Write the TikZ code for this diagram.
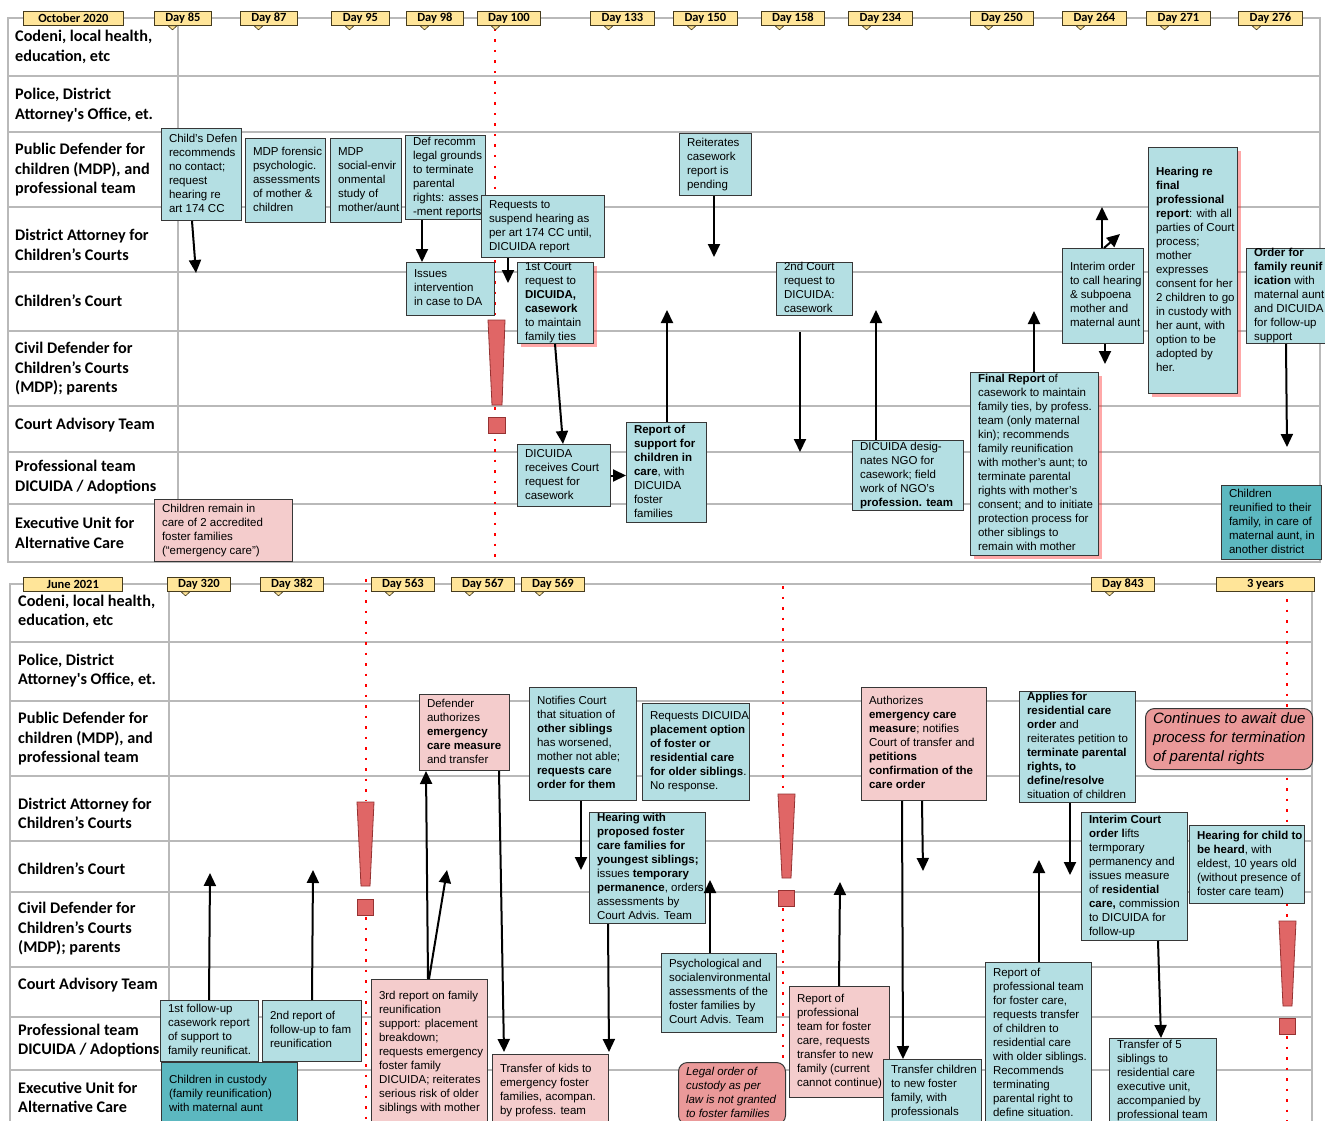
\documentclass[tikz,border=0pt]{standalone}
\usepackage{fontspec}
\setmainfont{Liberation Sans}
\newfontfamily\labfont{Carlito}
\usetikzlibrary{arrows.meta,shadows,calc}
\pgfdeclarelayer{background}
\pgfsetlayers{background,main}
\definecolor{cTeal}{RGB}{180,223,227}
\definecolor{cDark}{RGB}{92,184,192}
\definecolor{cPink}{RGB}{244,204,204}
\definecolor{cSalmon}{RGB}{234,153,153}
\definecolor{cExcl}{RGB}{224,102,102}
\definecolor{cExclB}{RGB}{150,50,50}
\definecolor{cTag}{RGB}{255,229,153}
\definecolor{cTagB}{RGB}{70,60,30}
\definecolor{cGrid}{RGB}{185,185,185}
\definecolor{cBorder}{RGB}{55,55,55}
\tikzset{
 bxs/.style={draw=cBorder, line width=1pt, inner sep=0pt, anchor=north west, font=\fontsize{11.5}{14}\selectfont},
 tealb/.style={bxs, fill=cTeal},
 darkb/.style={bxs, fill=cDark},
 pinkb/.style={bxs, fill=cPink},
 salb/.style={bxs, fill=cSalmon, rounded corners=9pt},
 glow/.style={drop shadow={shadow xshift=3.5pt, shadow yshift=-3.5pt, fill=red!85, opacity=0.4}},
 arr/.style={line width=2pt, -{Triangle[length=13pt,width=12pt]}},
 gridl/.style={draw=cGrid, line width=1.4pt},
 lane/.style={anchor=west, align=left, inner sep=0pt, font=\labfont\bfseries\fontsize{16.2}{19.5}\selectfont},
 tagb/.style={draw=cTagB, fill=cTag, line width=0.8pt, inner sep=0pt, anchor=north west, minimum height=14pt, font=\labfont\bfseries\fontsize{12.5}{12.5}\selectfont},
 reddot/.style={draw=red, line width=2.5pt, dash pattern=on 2.5pt off 8pt},
 excl/.style={fill=cExcl, draw=cExclB, line width=0.8pt},
 dashl/.style={draw=black, line width=1.5pt, dash pattern=on 8pt off 6pt},
}
\newcommand\bx[7]{\node[#6, minimum width=#4pt, minimum height=#5pt] (#1) at (#2,#3) {\parbox[c][#5pt][c]{#4pt}{\noindent\hspace*{7.5pt}\begin{tabular}{@{}l@{}}#7\end{tabular}}};}
\newcommand\tg[5]{\node[tagb, minimum width={(#3-#2)*1pt}] (#1) at (#2,#4) {#5};
 \filldraw[fill=cTag, draw=cTagB, line width=0.6pt] ($(#1.south west)+(14,0)$) -- ++(9,0) -- ++(-4.5,4) -- cycle;}
\newcommand\tgm[5]{\node[tagb, minimum width={(#3-#2)*1pt}] (#1) at (#2,#4) {#5};}
\begin{document}
\begin{tikzpicture}[x=1pt,y=-1pt]
\useasboundingbox (0,0) rectangle (1325,1121);
\fill[white] (0,0) rectangle (1325,1121);
% ---------- grids
\draw[gridl] (8,18) rectangle (1320,562);
\foreach \yy in {76,132,207,272,331,406,452,504} \draw[gridl] (8,\yy) -- (1320,\yy);
\draw[gridl] (178,18) -- (178,562);
\draw[gridl] (10,1121) -- (10,584) -- (1312,584) -- (1312,1121);
\foreach \yy in {642,701,776,841,892,967,1017,1070} \draw[gridl] (10,\yy) -- (1312,\yy);
\draw[gridl] (169,584) -- (169,1121);
% ---------- red dotted lines
\draw[reddot] (495,29) -- (495,562);
\draw[reddot] (366,579) -- (366,801);
\draw[reddot] (366,917) -- (366,1121);
\draw[reddot] (783,586) -- (783,793);
\draw[reddot] (783,908) -- (783,1121);
\draw[reddot] (1287,599) -- (1287,921);
\draw[reddot] (1287,1036) -- (1287,1121);
% ---------- lane labels
\node[lane] (T1) at (15,47) {Codeni, local health,\\education, etc};
\node[lane] (T2) at (15,105) {Police, District\\Attorney's Office, et.};
\node[lane] (T3) at (15,170) {Public Defender for\\children (MDP), and\\professional team};
\node[lane] (T4) at (15,245) {District Attorney for\\Children’s Courts};
\node[lane] (T5) at (15,301) {Children’s Court};
\node[lane] (T6) at (15,369) {Civil Defender for\\Children’s Courts\\(MDP); parents};
\node[lane] (T7) at (15,425) {Court Advisory Team};
\node[lane] (T8) at (15,477) {Professional team\\DICUIDA / Adoptions};
\node[lane] (T9) at (15,533) {Executive Unit for\\Alternative Care};
\node[lane] (U1) at (18,611.5) {Codeni, local health,\\education, etc};
\node[lane] (U2) at (18,670.5) {Police, District\\Attorney's Office, et.};
\node[lane] (U3) at (18,739) {Public Defender for\\children (MDP), and\\professional team};
\node[lane] (U4) at (18,813.5) {District Attorney for\\Children’s Courts};
\node[lane] (U5) at (18,869) {Children’s Court};
\node[lane] (U6) at (18,929) {Civil Defender for\\Children’s Courts\\(MDP); parents};
\node[lane] (U7) at (18,985) {Court Advisory Team};
\node[lane] (U8) at (18,1040.5) {Professional team\\DICUIDA / Adoptions};
\node[lane] (U9) at (18,1097.5) {Executive Unit for\\Alternative Care};
% ---------- tags
\tgm{g0}{23}{123}{11}{October 2020}
\tg{g1}{154}{211}{11}{Day 85}
\tg{g2}{240}{297}{11}{Day 87}
\tg{g3}{331}{389}{11}{Day 95}
\tg{g4}{406}{463}{11}{Day 98}
\tg{g5}{477}{540}{11}{Day 100}
\tg{g6}{590}{654}{11}{Day 133}
\tg{g7}{673}{737}{11}{Day 150}
\tg{g8}{761}{824}{11}{Day 158}
\tg{g9}{848}{912}{11}{Day 234}
\tg{g10}{970}{1033}{11}{Day 250}
\tg{g11}{1062}{1126}{11}{Day 264}
\tg{g12}{1146}{1210}{11}{Day 271}
\tg{g13}{1238}{1302}{11}{Day 276}
\tgm{h0}{23}{122}{577}{June 2021}
\tg{h1}{167}{230}{577}{Day 320}
\tg{h2}{260}{323}{577}{Day 382}
\tg{h3}{371}{434}{577}{Day 563}
\tg{h4}{451}{514}{577}{Day 567}
\tg{h5}{521}{584}{577}{Day 569}
\tg{h6}{1091}{1154}{577}{Day 843}
\tgm{h7}{1216}{1314}{577}{3 years}
% ---------- exclamation marks
\path[excl] (488,320) -- (505,320) -- (502,405) -- (492,405) -- cycle;
\path[excl] (488,417) rectangle (505,433);
\path[excl] (357,802) -- (374,802) -- (370,886) -- (361,886) -- cycle;
\path[excl] (357,899) rectangle (373,915);
\path[excl] (778,794) -- (795,794) -- (791,878) -- (782,878) -- cycle;
\path[excl] (778,890) rectangle (794,906);
\path[excl] (1279,921) -- (1296,921) -- (1292,1006) -- (1283,1006) -- cycle;
\path[excl] (1279,1018) rectangle (1295,1034);
% ---------- top boxes
\bx{A1}{161}{128}{80}{92}{tealb}{Child's Defen\\recommends\\no contact;\\request\\hearing re\\art 174 CC}
\bx{A2}{245}{138}{80}{84}{tealb}{MDP forensic\\psychologic.\\assessments\\of mother \&\\children}
\bx{A3}{330}{138}{71}{84}{tealb}{MDP\\social-envir\\onmental\\study of\\mother/aunt}
\bx{A4}{405}{135}{80}{84}{tealb}{Def recomm\\legal grounds\\to terminate\\parental\\rights: asses\\-ment reports}
\bx{A5}{481}{195}{123}{62}{tealb}{Requests to\\suspend hearing as\\per art 174 CC until,\\DICUIDA report}
\bx{A6}{406}{262}{88}{53}{tealb}{Issues\\intervention\\in case to DA}
\bx{A7}{517}{262}{76}{81}{tealb,glow}{1st Court\\request to\\\textbf{DICUIDA,}\\\textbf{casework}\\to maintain\\family ties}
\bx{A8}{679}{133}{72}{62}{tealb}{Reiterates\\casework\\report is\\pending}
\bx{A9}{776}{262}{76}{53}{tealb}{2nd Court\\request to\\DICUIDA:\\casework}
\bx{A10}{517}{444}{93}{62}{tealb}{DICUIDA\\receives Court\\request for\\casework}
\bx{A11}{626}{422}{80}{100}{tealb}{\textbf{Report of}\\\textbf{support for}\\\textbf{children in}\\\textbf{care}, with\\DICUIDA\\foster\\families}
\bx{A12}{852}{440}{111}{70}{tealb}{DICUIDA desig-\\nates NGO for\\casework; field\\work of NGO’s\\\textbf{profession. team}}
\bx{A13}{970}{372}{128}{183}{tealb,glow}{\textbf{Final Report} of\\casework to maintain\\family ties, by profess.\\team (only maternal\\kin); recommends\\family reunification\\with mother’s aunt; to\\terminate parental\\rights with mother’s\\consent; and to initiate\\protection process for\\other siblings to\\remain with mother}
\bx{A14}{1062}{248}{81}{95}{tealb}{Interim order\\to call hearing\\\& subpoena\\mother and\\maternal aunt}
\bx{A15}{1148}{147}{89}{246}{tealb,glow}{\textbf{Hearing re}\\\textbf{final}\\\textbf{professional}\\\textbf{report}: with all\\parties of Court\\process;\\mother\\expresses\\consent for her\\2 children to go\\in custody with\\her aunt, with\\option to be\\adopted by\\her.}
\bx{A16}{1246}{248}{80}{95}{tealb}{\textbf{Order for}\\\textbf{family reunif}\\\textbf{ication} with\\maternal aunt;\\and DICUIDA\\for follow-up\\support}
\bx{A17}{1221}{485}{100}{74}{darkb}{Children\\reunified to their\\family, in care of\\maternal aunt, in\\another district}
\bx{A18}{154}{499}{138}{62}{pinkb}{Children remain in\\care of 2 accredited\\foster families\\(“emergency care”)}
% ---------- bottom boxes
\bx{B1}{160}{1000}{98}{61}{tealb}{1st follow-up\\casework report\\of support to\\family reunificat.}
\bx{B2}{262}{1000}{99}{61}{tealb}{2nd report of\\follow-up to fam\\reunification}
\bx{B3}{161}{1062}{136}{64}{darkb}{Children in custody\\(family reunification)\\with maternal aunt}
\bx{B4}{419}{694}{90}{76}{pinkb}{Defender\\authorizes\\\textbf{emergency}\\\textbf{care measure}\\and transfer}
\bx{B5}{529}{687}{107}{113}{tealb}{Notifies Court\\that situation of\\\textbf{other siblings}\\has worsened,\\mother not able;\\\textbf{requests care}\\\textbf{order for them}}
\bx{B6}{642}{703}{107}{97}{tealb}{Requests DICUIDA\\\textbf{placement option}\\\textbf{of foster or}\\\textbf{residential care}\\\textbf{for older siblings}.\\No response.}
\bx{B7}{589}{812}{116}{111}{tealb}{\textbf{Hearing with}\\\textbf{proposed foster}\\\textbf{care families for}\\\textbf{youngest siblings;}\\issues \textbf{temporary}\\\textbf{permanence}, orders\\assessments by\\Court Advis. Team}
\bx{B8}{861}{687}{125}{113}{pinkb}{Authorizes\\\textbf{emergency care}\\\textbf{measure}; notifies\\Court of transfer and\\\textbf{petitions}\\\textbf{confirmation of the}\\\textbf{care order}}
\bx{B9}{1019}{691}{116}{111}{tealb}{\textbf{Applies for}\\\textbf{residential care}\\\textbf{order} and\\reiterates petition to\\\textbf{terminate parental}\\\textbf{rights, to}\\\textbf{define/resolve}\\situation of children}
\bx{B10}{1145}{708}{167}{61}{salb,font=\itshape\fontsize{15}{19}\selectfont}{Continues to await due\\process for termination\\of parental rights}
\bx{B11}{1081}{812}{106}{128}{tealb}{\textbf{Interim Court}\\\textbf{order l}ifts\\termporary\\permanency and\\issues measure\\of \textbf{residential}\\\textbf{care,} commission\\to DICUIDA for\\follow-up}
\bx{B12}{1189}{825}{115}{78}{tealb}{\textbf{Hearing for child to}\\\textbf{be heard}, with\\eldest, 10 years old\\(without presence of\\foster care team)}
\bx{B13}{661}{953}{115}{79}{tealb}{Psychological and\\socialenvironmental\\assessments of the\\foster families by\\Court Advis. Team}
\bx{B14}{789}{986}{100}{111}{pinkb}{Report of\\professional\\team for foster\\care, requests\\transfer to new\\family (current\\cannot continue)}
\bx{B15}{678}{1062}{107}{62}{salb,font=\itshape\fontsize{11.5}{14}\selectfont}{Legal order of\\custody as per\\law is not granted\\to foster families}
\bx{B16}{883}{1059}{98}{64}{tealb}{Transfer children\\to new foster\\family, with\\professionals}
\bx{B17}{985}{962}{106}{162}{tealb}{Report of\\professional team\\for foster care,\\requests transfer\\of children to\\residential care\\with older siblings.\\Recommends\\terminating\\parental right to\\define situation.}
\bx{B18}{1109}{1038}{107}{84}{tealb}{Transfer of 5\\siblings to\\residential care\\executive unit,\\accompanied by\\professional team}
\bx{B19}{371}{979}{116}{146}{pinkb}{3rd report on family\\reunification\\support: placement\\breakdown;\\requests emergency\\foster family\\DICUIDA; reiterates\\serious risk of older\\siblings with mother}
\bx{B20}{492}{1054}{116}{72}{pinkb}{Transfer of kids to\\emergency foster\\families, acompan.\\by profess. team}
% ---------- dashed line (behind)
\begin{pgfonlayer}{background}
\draw[dashl] (A18.east) -- (A17.west);
\end{pgfonlayer}
% ---------- free arrow ends
\coordinate (e1) at (196,273);
\coordinate (e3) at (508,283);
\coordinate (e6) at (667,310);
\coordinate (e7) at (714,257);
\coordinate (s8) at (800,332);
\coordinate (e8) at (800,452);
\coordinate (e9) at (876,310);
\coordinate (e10) at (1034,311);
\coordinate (e11) at (1102,207);
\coordinate (e12) at (1120,234);
\coordinate (e13) at (1105,364);
\coordinate (e14) at (1287,447);
\coordinate (f1) at (210,873);
\coordinate (f2) at (313,870);
\coordinate (f4) at (447,870);
\coordinate (f6) at (581,870);
\coordinate (f8) at (710,880);
\coordinate (f9) at (840,882);
\coordinate (f11) at (923,871);
\coordinate (f12) at (1070,875);
\coordinate (f13) at (1039,860);
% ---------- arrows top
\draw[arr] ($(A1.south west)+(31,0)$) -- (e1);
\draw[arr] ($(A4.south west)+(17,0)$) -- ($(A6.north west)+(16,0)$);
\draw[arr] ($(A5.south west)+(27,0)$) -- (e3);
\draw[arr] ($(A7.south west)+(38,0)$) -- ($(A10.north west)+(46,0)$);
\draw[arr] (A10.east) -- (A10.east -| A11.west);
\draw[arr] ($(A11.north west)+(41,0)$) -- (e6);
\draw[arr] ($(A8.south west)+(35,0)$) -- (e7);
\draw[arr] (s8) -- (e8);
\draw[arr] ($(A12.north west)+(24,0)$) -- (e9);
\draw[arr] ($(A13.north west)+(64,0)$) -- (e10);
\draw[arr] ($(A14.north west)+(40,0)$) -- (e11);
\draw[arr] ($(A14.north west)+(42,0)$) -- (e12);
\draw[arr] ($(A14.south west)+(43,0)$) -- (e13);
\draw[arr] ($(A16.south west)+(40,0)$) -- (e14);
% ---------- arrows bottom
\draw[arr] ($(B1.north west)+(49,0)$) -- (f1);
\draw[arr] ($(B2.north west)+(50,0)$) -- (f2);
\draw[arr] ($(B19.north west)+(57,0)$) -- ($(B4.south west)+(7,0)$);
\draw[arr] ($(B19.north west)+(58,0)$) -- (f4);
\draw[arr] ($(B4.south west)+(80,0)$) -- ($(B20.north west)+(12,-2)$);
\draw[arr] ($(B5.south west)+(52,0)$) -- (f6);
\draw[arr] ($(B7.south west)+(19,0)$) -- ($(B20.north east)+(0,-2)$);
\draw[arr] ($(B13.north west)+(49,0)$) -- (f8);
\draw[arr] ($(B14.north west)+(50,0)$) -- (f9);
\draw[arr] ($(B8.south west)+(41,0)$) -- ($(B16.north west)+(20,0)$);
\draw[arr] ($(B8.south west)+(61,0)$) -- (f11);
\draw[arr] ($(B9.south west)+(51,0)$) -- (f12);
\draw[arr] ($(B17.north west)+(54,0)$) -- (f13);
\draw[arr] ($(B11.south west)+(77,0)$) -- ($(B18.north west)+(52,0)$);
\end{tikzpicture}
\end{document}
